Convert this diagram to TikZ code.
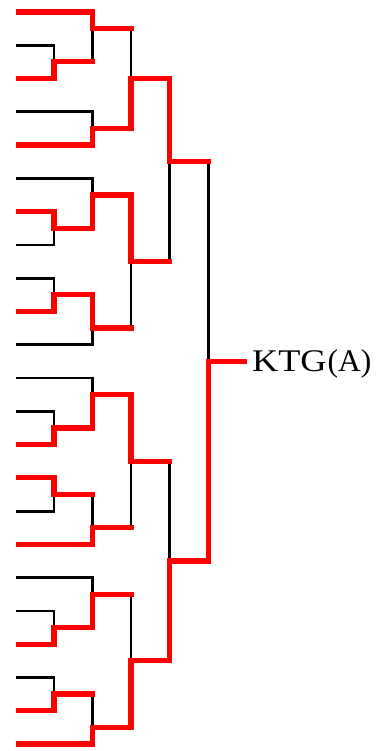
\documentclass[tikz,border=0pt]{standalone}
\usepackage{fontspec}
\usepackage{graphicx}
\setmainfont{Liberation Serif}
\tikzset{
  blk/.style={line width=2.8pt, black, line join=miter, line cap=butt},
  win/.style={line width=5.2pt, red, line join=miter, line cap=butt, shorten >=-2.6pt},
}
\begin{document}
\begin{tikzpicture}[x=1pt,y=-1pt]
\useasboundingbox (0,0) rectangle (379,751);
% x levels
\def\xa{16}\def\xb{54}\def\xc{92.7}\def\xd{131}\def\xe{169.5}\def\xf{208.5}\def\xg{244}
% ---------- black bracket ----------
% top half
\draw[blk] (\xa,45.3) -- (\xb,45.3) -- (\xb,78.5) -- (\xa,78.5);          % A1
\draw[blk] (\xa,12) -- (\xc,12) -- (\xc,61.9) -- (\xb,61.9);              % A2
\draw[blk] (\xa,111.8) -- (\xc,111.8) -- (\xc,145.1) -- (\xa,145.1);      % A3
\draw[blk] (\xc,28.65) -- (\xd,28.65) -- (\xd,128.45) -- (\xc,128.45);    % A4
\draw[blk] (\xa,211.6) -- (\xb,211.6) -- (\xb,244.9) -- (\xa,244.9);      % A5
\draw[blk] (\xa,178.4) -- (\xc,178.4) -- (\xc,228.25) -- (\xb,228.25);    % A6
\draw[blk] (\xa,278.2) -- (\xb,278.2) -- (\xb,311.4) -- (\xa,311.4);      % A7
\draw[blk] (\xb,294.8) -- (\xc,294.8) -- (\xc,344.7) -- (\xa,344.7);      % A8
\draw[blk] (\xc,195) -- (\xd,195) -- (\xd,328.05) -- (\xc,328.05);        % A9
\draw[blk] (\xd,78.55) -- (\xe,78.55) -- (\xe,261.5) -- (\xd,261.5);      % A10
% bottom half
\draw[blk] (\xa,411.3) -- (\xb,411.3) -- (\xb,444.5) -- (\xa,444.5);      % B1
\draw[blk] (\xa,378) -- (\xc,378) -- (\xc,427.9) -- (\xb,427.9);          % B2
\draw[blk] (\xa,477.8) -- (\xb,477.8) -- (\xb,511.1) -- (\xa,511.1);      % B3
\draw[blk] (\xb,494.45) -- (\xc,494.45) -- (\xc,544.3) -- (\xa,544.3);    % B4
\draw[blk] (\xc,394.65) -- (\xd,394.65) -- (\xd,527.7) -- (\xc,527.7);    % B5
\draw[blk] (\xa,610.9) -- (\xb,610.9) -- (\xb,644.1) -- (\xa,644.1);      % B6
\draw[blk] (\xa,577.6) -- (\xc,577.6) -- (\xc,627.5) -- (\xb,627.5);      % B7
\draw[blk] (\xa,677.4) -- (\xb,677.4) -- (\xb,710.7) -- (\xa,710.7);      % B8
\draw[blk] (\xb,694.05) -- (\xc,694.05) -- (\xc,744) -- (\xa,744);        % B9
\draw[blk] (\xc,594.25) -- (\xd,594.25) -- (\xd,727.35) -- (\xc,727.35);  % B10
\draw[blk] (\xd,461.2) -- (\xe,461.2) -- (\xe,660.8) -- (\xd,660.8);      % B11
% final
\draw[blk] (\xe,161.75) -- (\xf,161.75) -- (\xf,560.95) -- (\xe,560.95);
\draw[blk] (\xf,361.35) -- (\xg,361.35);
% ---------- winners (red) ----------
\draw[win] (\xa,12) -- (\xc,12) -- (\xc,28.65) -- (\xd,28.65);
\draw[win] (\xa,78.5) -- (\xb,78.5) -- (\xb,61.9) -- (\xc,61.9);
\draw[win] (\xa,145.1) -- (\xc,145.1) -- (\xc,128.45) -- (\xd,128.45) -- (\xd,78.55) -- (\xe,78.55) -- (\xe,161.75) -- (\xf,161.75);
\draw[win] (\xa,211.6) -- (\xb,211.6) -- (\xb,228.25) -- (\xc,228.25) -- (\xc,195) -- (\xd,195) -- (\xd,261.5) -- (\xe,261.5);
\draw[win] (\xa,311.4) -- (\xb,311.4) -- (\xb,294.8) -- (\xc,294.8) -- (\xc,328.05) -- (\xd,328.05);
\draw[win] (\xa,444.5) -- (\xb,444.5) -- (\xb,427.9) -- (\xc,427.9) -- (\xc,394.65) -- (\xd,394.65) -- (\xd,461.2) -- (\xe,461.2);
\draw[win] (\xa,477.8) -- (\xb,477.8) -- (\xb,494.45) -- (\xc,494.45);
\draw[win] (\xa,544.3) -- (\xc,544.3) -- (\xc,527.7) -- (\xd,527.7);
\draw[win] (\xa,644.1) -- (\xb,644.1) -- (\xb,627.5) -- (\xc,627.5) -- (\xc,594.25) -- (\xd,594.25);
\draw[win] (\xa,710.7) -- (\xb,710.7) -- (\xb,694.05) -- (\xc,694.05);
\draw[win] (\xa,744) -- (\xc,744) -- (\xc,727.35) -- (\xd,727.35) -- (\xd,660.8) -- (\xe,660.8) -- (\xe,560.95) -- (\xf,560.95) -- (\xf,361.35) -- (\xg,361.35);
% ---------- label ----------
\node[anchor=base west, inner sep=0pt] (champ) at (252,371.5)
  {\fontsize{31.5}{31.5}\selectfont\scalebox{1.15}[1]{KTG}\kern1pt(A)};
\end{tikzpicture}
\end{document}
